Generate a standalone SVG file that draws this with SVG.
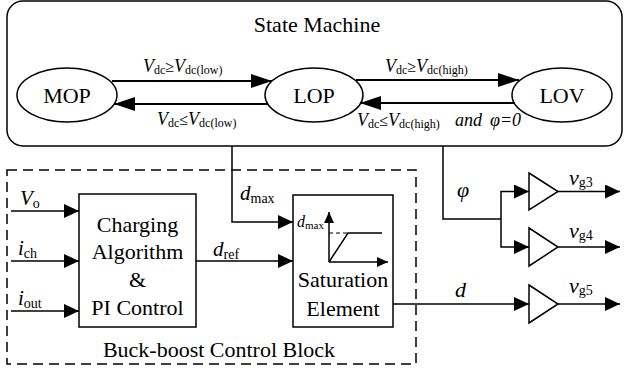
<svg xmlns="http://www.w3.org/2000/svg" width="625" height="371" viewBox="0 0 625 371">
<defs>
<marker id="a" markerUnits="userSpaceOnUse" markerWidth="16" markerHeight="14" refX="15" refY="7" orient="auto"><path d="M0,0 L15,7 L0,14 Z" fill="#000"/></marker>
<marker id="b" markerUnits="userSpaceOnUse" markerWidth="22" markerHeight="16" refX="21" refY="8" orient="auto"><path d="M0,1 L21,8 L0,15 Z" fill="#000"/></marker>
<marker id="c" markerUnits="userSpaceOnUse" markerWidth="12" markerHeight="10" refX="11" refY="5" orient="auto"><path d="M0,0 L11,5 L0,10 Z" fill="#000"/></marker>
</defs>

<g id="state-machine">
<rect x="7" y="1" width="615" height="145" rx="16" fill="none" stroke="#000" stroke-width="1.5"/>
<text font-family="'Liberation Serif', 'Noto Sans CJK SC', serif" font-size="22" text-anchor="middle" x="317" y="32">State Machine</text>
</g>
<g id="MOP"><ellipse cx="67" cy="95" rx="50" ry="27" fill="none" stroke="#000" stroke-width="1.5"/><text font-family="'Liberation Serif', 'Noto Sans CJK SC', serif" font-size="22" text-anchor="middle" x="67" y="103">MOP</text></g>
<g id="LOP"><ellipse cx="314" cy="95" rx="49" ry="27" fill="none" stroke="#000" stroke-width="1.5"/><text font-family="'Liberation Serif', 'Noto Sans CJK SC', serif" font-size="22" text-anchor="middle" x="314" y="103">LOP</text></g>
<g id="LOV"><ellipse cx="562" cy="95" rx="50" ry="27" fill="none" stroke="#000" stroke-width="1.5"/><text font-family="'Liberation Serif', 'Noto Sans CJK SC', serif" font-size="22" text-anchor="middle" x="562" y="103">LOV</text></g>

<g id="buck-boost-block">
<rect x="7" y="170" width="409" height="194" fill="none" stroke="#000" stroke-width="1.5" stroke-dasharray="10,6"/>
<text font-family="'Liberation Serif', 'Noto Sans CJK SC', serif" font-size="22" text-anchor="middle" x="219" y="357">Buck-boost Control Block</text>
</g>
<g id="charging">
<rect x="79" y="194" width="117" height="133" fill="none" stroke="#000" stroke-width="1.5"/>
<text font-family="'Liberation Serif', 'Noto Sans CJK SC', serif" font-size="22" text-anchor="middle" x="137.5" y="232">Charging</text>
<text font-family="'Liberation Serif', 'Noto Sans CJK SC', serif" font-size="22" text-anchor="middle" x="137.5" y="259">Algorithm</text>
<text font-family="'Liberation Serif', 'Noto Sans CJK SC', serif" font-size="22" text-anchor="middle" x="137.5" y="287">&amp;</text>
<text font-family="'Liberation Serif', 'Noto Sans CJK SC', serif" font-size="22" text-anchor="middle" x="137.5" y="315">PI Control</text>
</g>
<g id="saturation">
<rect x="293" y="195" width="100" height="132" fill="none" stroke="#000" stroke-width="1.5"/>
<path d="M329,262 V212" fill="none" stroke="#000" stroke-width="1.5" marker-end="url(#c)"/>
<path d="M329,262 H388" fill="none" stroke="#000" stroke-width="1.5" marker-end="url(#c)"/>
<path d="M329,233 H348" fill="none" stroke="#000" stroke-width="1" stroke-dasharray="4,3"/>
<path d="M329,262 L348,233 H382" fill="none" stroke="#000" stroke-width="1.5"/>
<text font-family="'Liberation Serif', 'Noto Sans CJK SC', serif" font-size="16" font-style="italic" x="297" y="227">d<tspan font-size="11" font-style="normal" dy="2">max</tspan></text>
<text font-family="'Liberation Serif', 'Noto Sans CJK SC', serif" font-size="22" text-anchor="middle" x="343" y="287">Saturation</text>
<text font-family="'Liberation Serif', 'Noto Sans CJK SC', serif" font-size="22" text-anchor="middle" x="343" y="316">Element</text>
</g>
<g id="amp3"><path d="M529,173 L558,191.5 L529,210 Z" fill="none" stroke="#000" stroke-width="1.5"/></g>
<g id="amp4"><path d="M529,228 L558,247 L529,266 Z" fill="none" stroke="#000" stroke-width="1.5"/></g>
<g id="amp5"><path d="M529,285 L558,304 L529,323 Z" fill="none" stroke="#000" stroke-width="1.5"/></g>

<g id="connectors" fill="none" stroke="#000" stroke-width="1.5">
<g stroke-width="2" marker-end="url(#b)">
<path d="M112,81 H272"/>
<path d="M268,104 H114"/>
<path d="M356,80 H519"/>
<path d="M515,103 H360"/>
</g>
<g marker-end="url(#a)">
<path d="M232,146 V222 H293"/>
<path d="M11,211 H79"/>
<path d="M11,261 H79"/>
<path d="M11,311 H79"/>
<path d="M196,261 H293"/>
<path d="M393,304 H529"/>
<path d="M501,219 V191.5 H529"/>
<path d="M501,219 V247 H529"/>
<path d="M558,191.5 H620"/>
<path d="M558,247 H620"/>
<path d="M558,304 H620"/>
</g>
<path d="M443,146 V219 H501"/>
</g>

<g id="labels">
<text font-family="'Liberation Serif', 'Noto Sans CJK SC', serif" font-size="18" font-style="italic" x="143" y="72">V<tspan font-size="12" font-style="normal" dy="2">dc</tspan><tspan font-size="16" font-style="normal" dy="-2">&#8805;</tspan>V<tspan font-size="12" font-style="normal" dy="2">dc(low)</tspan></text>
<text font-family="'Liberation Serif', 'Noto Sans CJK SC', serif" font-size="18" font-style="italic" x="157" y="125">V<tspan font-size="12" font-style="normal" dy="2">dc</tspan><tspan font-size="16" font-style="normal" dy="-2">&#8804;</tspan>V<tspan font-size="12" font-style="normal" dy="2">dc(low)</tspan></text>
<text font-family="'Liberation Serif', 'Noto Sans CJK SC', serif" font-size="18" font-style="italic" x="385" y="72">V<tspan font-size="12" font-style="normal" dy="2">dc</tspan><tspan font-size="16" font-style="normal" dy="-2">&#8805;</tspan>V<tspan font-size="12" font-style="normal" dy="2">dc(high)</tspan></text>
<text font-family="'Liberation Serif', 'Noto Sans CJK SC', serif" font-size="18" font-style="italic" x="357" y="126">V<tspan font-size="12" font-style="normal" dy="2">dc</tspan><tspan font-size="16" font-style="normal" dy="-2">&#8804;</tspan>V<tspan font-size="12" font-style="normal" dy="2">dc(high)</tspan><tspan x="455" dy="-2">and</tspan><tspan x="490">&#966;=0</tspan></text>
<text font-family="'Liberation Serif', 'Noto Sans CJK SC', serif" font-size="21" font-style="italic" x="20" y="205">V<tspan font-size="14" font-style="normal" dy="3">o</tspan></text>
<text font-family="'Liberation Serif', 'Noto Sans CJK SC', serif" font-size="21" font-style="italic" x="18" y="255">i<tspan font-size="14" font-style="normal" dy="3">ch</tspan></text>
<text font-family="'Liberation Serif', 'Noto Sans CJK SC', serif" font-size="21" font-style="italic" x="18" y="305">i<tspan font-size="14" font-style="normal" dy="3">out</tspan></text>
<text font-family="'Liberation Serif', 'Noto Sans CJK SC', serif" font-size="21" font-style="italic" x="240" y="200">d<tspan font-size="14" font-style="normal" dy="3">max</tspan></text>
<text font-family="'Liberation Serif', 'Noto Sans CJK SC', serif" font-size="21" font-style="italic" x="213" y="256">d<tspan font-size="14" font-style="normal" dy="3">ref</tspan></text>
<text font-family="'Liberation Serif', 'Noto Sans CJK SC', serif" font-size="22" font-style="italic" x="455" y="297">d</text>
<text font-family="'Liberation Serif', 'Noto Sans CJK SC', serif" font-size="22" font-style="italic" x="457" y="197">&#966;</text>
<text font-family="'Liberation Serif', 'Noto Sans CJK SC', serif" font-size="22" font-style="italic" x="569" y="185">v<tspan font-size="14" font-style="normal" dy="2">g3</tspan></text>
<text font-family="'Liberation Serif', 'Noto Sans CJK SC', serif" font-size="22" font-style="italic" x="569" y="238">v<tspan font-size="14" font-style="normal" dy="2">g4</tspan></text>
<text font-family="'Liberation Serif', 'Noto Sans CJK SC', serif" font-size="22" font-style="italic" x="569" y="293">v<tspan font-size="14" font-style="normal" dy="2">g5</tspan></text>
</g>
</svg>
